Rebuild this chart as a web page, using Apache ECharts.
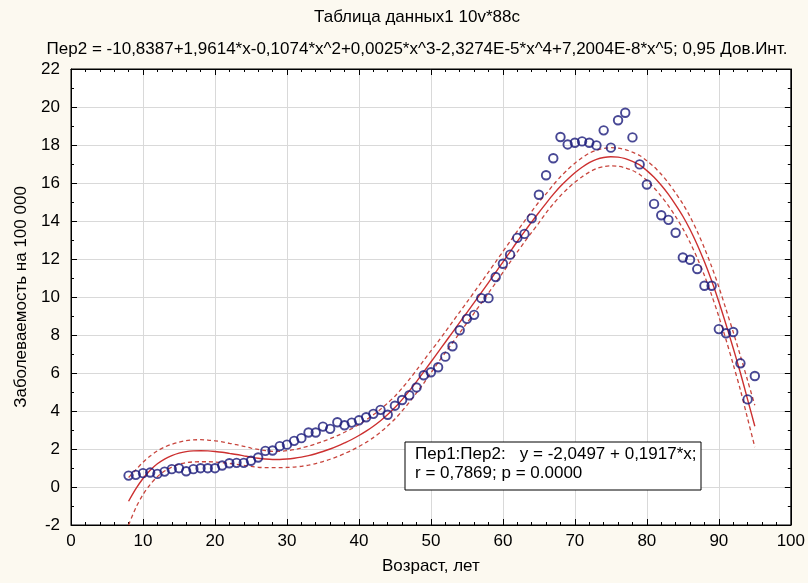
<!DOCTYPE html>
<html>
<head>
<meta charset="utf-8">
<script src="https://cdn.jsdelivr.net/npm/echarts@6/dist/echarts.min.js"></script>
<style>
  html, body { margin: 0; padding: 0; background: #fcf9f0; }
  #chart { width: 808px; height: 583px; }
</style>
</head>
<body>
<div id="chart"></div>
<script>
// Ages (years), one observation per age 8..95
const ages = [8,9,10,11,12,13,14,15,16,17,18,19,20,21,22,23,24,25,26,27,28,29,30,31,32,33,34,35,36,37,38,39,40,41,42,43,44,45,46,47,48,49,50,51,52,53,54,55,56,57,58,59,60,61,62,63,64,65,66,67,68,69,70,71,72,73,74,75,76,77,78,79,80,81,82,83,84,85,86,87,88,89,90,91,92,93,94,95];

// Observed incidence per 100 000
const incidence = [
  0.60,0.64,0.73,0.76,0.69,0.81,0.94,0.99,0.83,0.94,
  0.99,0.99,0.99,1.13,1.25,1.27,1.27,1.38,1.55,1.90,
  1.92,2.15,2.23,2.43,2.57,2.87,2.87,3.18,3.06,3.41,
  3.25,3.39,3.51,3.67,3.85,4.06,3.80,4.28,4.58,4.83,
  5.24,5.88,6.04,6.30,6.86,7.41,8.25,8.85,9.06,9.94,
  9.94,11.05,11.75,12.23,13.11,13.32,14.14,15.38,16.41,17.30,
  18.42,18.03,18.12,18.19,18.12,17.98,18.77,17.86,19.30,19.70,
  18.40,16.98,15.92,14.90,14.30,14.06,13.38,12.08,11.96,11.47,
  10.59,10.59,8.31,8.09,8.16,6.51,4.61,5.84
];

// Fitted 5th-degree polynomial curve
const fitted = [
  -0.75,-0.10,0.45,0.88,1.22,1.47,1.65,1.78,1.86,1.90,
  1.91,1.90,1.87,1.83,1.77,1.71,1.64,1.57,1.51,1.47,
  1.45,1.45,1.47,1.51,1.57,1.65,1.75,1.87,2.00,2.15,
  2.32,2.50,2.71,2.94,3.20,3.49,3.82,4.18,4.60,5.06,
  5.55,6.06,6.58,7.10,7.62,8.14,8.66,9.18,9.70,10.23,
  10.76,11.30,11.84,12.38,12.92,13.44,13.95,14.45,14.93,15.40,
  15.83,16.20,16.54,16.83,17.07,17.24,17.34,17.38,17.36,17.28,
  17.14,16.95,16.65,16.30,15.88,15.40,14.85,14.25,13.55,12.75,
  11.85,10.85,9.75,8.55,7.30,6.00,4.60,3.20
];

// 0.95 confidence band, upper edge
const upperBand = [
  0.50,0.90,1.30,1.63,1.90,2.10,2.25,2.36,2.44,2.48,
  2.49,2.47,2.43,2.38,2.30,2.23,2.14,2.05,1.98,1.92,
  1.88,1.88,1.91,1.97,2.05,2.15,2.27,2.40,2.54,2.70,
  2.88,3.07,3.29,3.53,3.80,4.09,4.42,4.78,5.20,5.66,
  6.15,6.66,7.16,7.65,8.17,8.69,9.21,9.73,10.25,10.78,
  11.31,11.85,12.39,12.93,13.47,13.99,14.50,15.00,15.43,15.90,
  16.33,16.70,17.04,17.33,17.57,17.72,17.82,17.86,17.84,17.76,
  17.62,17.45,17.17,16.85,16.46,16.00,15.47,14.90,14.23,13.45,
  12.57,11.60,10.53,9.35,8.15,6.90,5.60,4.30
];

// 0.95 confidence band, lower edge
const lowerBand = [
  -2.00,-1.10,-0.40,0.13,0.54,0.84,1.05,1.20,1.28,1.32,
  1.33,1.33,1.31,1.28,1.24,1.19,1.14,1.09,1.04,1.02,
  1.02,1.02,1.03,1.05,1.09,1.15,1.23,1.34,1.46,1.60,
  1.76,1.93,2.13,2.35,2.60,2.89,3.22,3.58,4.00,4.46,
  4.95,5.46,6.00,6.55,7.07,7.59,8.11,8.63,9.15,9.68,
  10.21,10.75,11.29,11.83,12.37,12.89,13.40,13.90,14.43,14.90,
  15.33,15.70,16.04,16.33,16.57,16.76,16.86,16.90,16.88,16.80,
  16.66,16.45,16.13,15.75,15.30,14.80,14.23,13.60,12.87,12.05,
  11.13,10.10,8.97,7.75,6.45,5.10,3.60,2.10
];

const chartTitle = 'Таблица данных1 10v*88c';
const chartSubtitle = 'Пер2 = -10,8387+1,9614*x-0,1074*x^2+0,0025*x^3-2,3274E-5*x^4+7,2004E-8*x^5; 0,95 Дов.Инт.';
const statsLine1 = 'Пер1:Пер2:   y = -2,0497 + 0,1917*x;';
const statsLine2 = 'r = 0,7869; p = 0.0000';
const xName = 'Возраст, лет';
const yName = 'Заболеваемость на 100 000';

const FONT = 'Liberation Sans, Arial, sans-serif';
const FS = 17;
const pairs = (ys) => ages.map((a, i) => [a, ys[i]]);

const chart = echarts.init(document.getElementById('chart'), null, { renderer: 'canvas' });

function frameAxis(extra, minorSplit) {
  return Object.assign({
    axisLine: { show: true, onZero: false, lineStyle: { color: '#000', width: 1 } },
    axisTick: { show: true, inside: true, length: 6, lineStyle: { color: '#000' } },
    minorTick: { show: true, splitNumber: minorSplit, length: 3, lineStyle: { color: '#000' } }
  }, extra);
}

chart.setOption({
  backgroundColor: '#fcf9f0',
  animation: false,
  title: [
    { text: chartTitle, left: 412, top: 4, textAlign: 'center',
      textStyle: { fontFamily: FONT, fontSize: FS, fontWeight: 'normal', color: '#000' } },
    { text: chartSubtitle, left: 412, top: 36, textAlign: 'center',
      textStyle: { fontFamily: FONT, fontSize: FS, fontWeight: 'normal', color: '#000' } }
  ],
  grid: {
    left: 71, right: 14, top: 69, bottom: 58,
    show: true, backgroundColor: '#ffffff', borderColor: '#000', borderWidth: 1
  },
  xAxis: [
    frameAxis({
      type: 'value', min: 0, max: 100, interval: 10, position: 'bottom',
      name: xName, nameLocation: 'middle', nameGap: 33,
      nameTextStyle: { fontFamily: FONT, fontSize: FS, color: '#000' },
      axisLabel: { fontFamily: FONT, fontSize: FS, color: '#000', margin: 8 },
      splitLine: { show: true, lineStyle: { color: '#d9d9d9', width: 1 } }
    }, 5),
    frameAxis({
      type: 'value', min: 0, max: 100, interval: 10, position: 'top',
      axisLabel: { show: false }, splitLine: { show: false }
    }, 5)
  ],
  yAxis: [
    frameAxis({
      type: 'value', min: -2, max: 22, interval: 2, position: 'left',
      name: yName, nameLocation: 'middle', nameGap: 40, nameRotate: 90,
      nameTextStyle: { fontFamily: FONT, fontSize: FS, color: '#000' },
      axisLabel: { fontFamily: FONT, fontSize: FS, color: '#000', margin: 11 },
      splitLine: { show: true, lineStyle: { color: '#d9d9d9', width: 1 } }
    }, 2),
    frameAxis({
      type: 'value', min: -2, max: 22, interval: 2, position: 'right',
      axisLabel: { show: false }, splitLine: { show: false }
    }, 2)
  ],
  series: [
    {
      name: 'upper', type: 'line', data: pairs(upperBand), showSymbol: false, smooth: 0.3,
      lineStyle: { color: '#c8463e', width: 1.3, type: [4, 3] }, z: 2
    },
    {
      name: 'lower', type: 'line', data: pairs(lowerBand), showSymbol: false, smooth: 0.3,
      lineStyle: { color: '#c8463e', width: 1.3, type: [4, 3] }, z: 2
    },
    {
      name: 'fit', type: 'line', data: pairs(fitted), showSymbol: false, smooth: 0.3,
      lineStyle: { color: '#cc3030', width: 1.4 }, z: 3
    },
    {
      name: 'observed', type: 'scatter', data: pairs(incidence),
      symbol: 'circle', symbolSize: 8.5,
      itemStyle: { color: 'rgba(255,255,255,0)', borderColor: '#1a1a7a', borderWidth: 1.9 },
      z: 4
    }
  ],
  graphic: [
    { type: 'rect', x: 405, y: 442, z: 100,
      shape: { x: 0, y: 0, width: 296, height: 48 },
      style: { fill: '#ffffff', stroke: '#000', lineWidth: 1 } },
    { type: 'text', x: 415, y: 446, z: 101,
      style: { text: statsLine1, font: FS + 'px ' + FONT, fill: '#000' } },
    { type: 'text', x: 415, y: 465, z: 101,
      style: { text: statsLine2, font: FS + 'px ' + FONT, fill: '#000' } }
  ]
});
</script>
</body>
</html>
